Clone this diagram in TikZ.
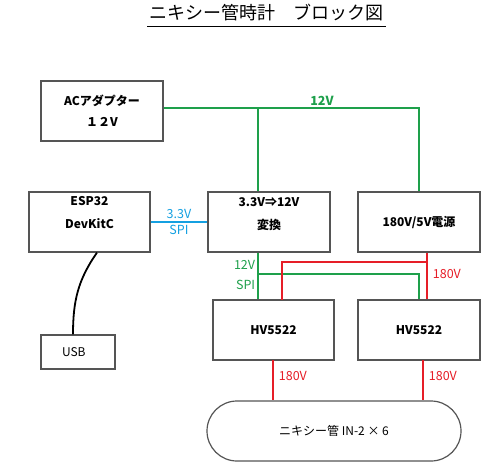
\documentclass[tikz,border=0pt]{standalone}
\usepackage{fontspec}
\setmainfont{Noto Sans CJK JP}
\usetikzlibrary{positioning}
\definecolor{wgreen}{RGB}{30,160,75}
\definecolor{wred}{RGB}{230,30,40}
\definecolor{wblue}{RGB}{20,160,225}
\definecolor{wgray}{RGB}{85,85,85}
\tikzset{
  blk/.style={draw=wgray, line width=1.2pt, rectangle, minimum width=122pt, minimum height=60pt, inner sep=0pt, align=center, font=\bfseries\fontsize{12}{21}\selectfont},
  blktext/.style={anchor=north, align=center, inner sep=2pt, font=\bfseries\fontsize{12}{23}\selectfont},
  wire/.style={line width=1.8pt},
  lbl/.style={inner sep=2pt, font=\fontsize{12.5}{14}\selectfont}
}
\begin{document}
\begin{tikzpicture}[x=1pt, y=-1pt]
\useasboundingbox (0,0) rectangle (502,462);
\node[font=\fontsize{18}{20}\selectfont] (title) at (266,13) {ニキシー管時計　ブロック図};
\draw[line width=0.8pt] (147,26) -- (386,26);

\node[blk] (ac) at (102,111) {ACアダプター\\１２V};
\node[blk, minimum width=121pt] (esp) at (89.5,222) {};
\node[blktext] (esptxt) at ([yshift=-3pt]esp.north) {ESP32\\DevKitC};
\node[blk] (conv) at (269,222) {};
\node[blktext] (convtxt) at ([yshift=-4pt]conv.north) {3.3V⇒12V\\変換};
\node[blk] (psu) at (419,222) {180V/5V電源};
\node[blk, minimum width=74pt, minimum height=34pt, text width=32pt, align=left, font=\fontsize{12}{13}\selectfont] (usb) at (78,352) {USB};
\node[blk, minimum width=121pt] (hvl) at (273.5,330) {HV5522};
\node[blk] (hvr) at (419,330) {HV5522};
\node[blk, minimum width=254pt, rounded corners=30pt, font=\fontsize{12}{14}\selectfont] (tube) at (334,431) {ニキシー管 IN-2 × 6};

\coordinate (j1) at (258,108);
\coordinate (j2) at (258,274);
\coordinate (r1) at (427,262);
\coordinate (r2) at (282,300);
\coordinate (h1) at (273,360);
\coordinate (h2) at (423,360);

\draw[wire, wgreen] ([yshift=3pt]ac.east) -- node[lbl, above, pos=0.62, text=wgreen, font=\bfseries\fontsize{12.5}{14}\selectfont] (v12a) {12V} (j1 -| psu.north) -- (psu.north);
\draw[wire, wgreen] (j1) -- (j1 |- conv.north);
\draw[wire, wblue] (esp.east) -- node[lbl, above, text=wblue] (v33) {3.3V} node[lbl, below, text=wblue] (spia) {SPI} (conv.west);
\draw[wire, black] ([xshift=7.5pt]esp.south) to[out=-125, in=90] ([xshift=-5pt]usb.north);
\draw[wire, wgreen] (j1 |- conv.south) -- node[lbl, left, pos=0.27, text=wgreen] (v12b) {12V} node[lbl, left, pos=0.69, text=wgreen] (spib) {SPI} (j1 |- hvl.north);
\draw[wire, wgreen] (j2) -| (hvr.north);

\draw[wire, wred] (r1 |- psu.south) -- node[lbl, right, pos=0.45, xshift=3pt, text=wred] (v180a) {180V} (r1 |- hvr.north);
\draw[wire, wred] (r1) -| (r2);
\draw[wire, wred] (h1) -- node[lbl, right, pos=0.4, xshift=3pt, text=wred] (v180b) {180V} (h1 |- tube.north);
\draw[wire, wred] (h2) -- node[lbl, right, pos=0.4, xshift=3pt, text=wred] (v180c) {180V} (h2 |- tube.north);
\end{tikzpicture}
\end{document}
